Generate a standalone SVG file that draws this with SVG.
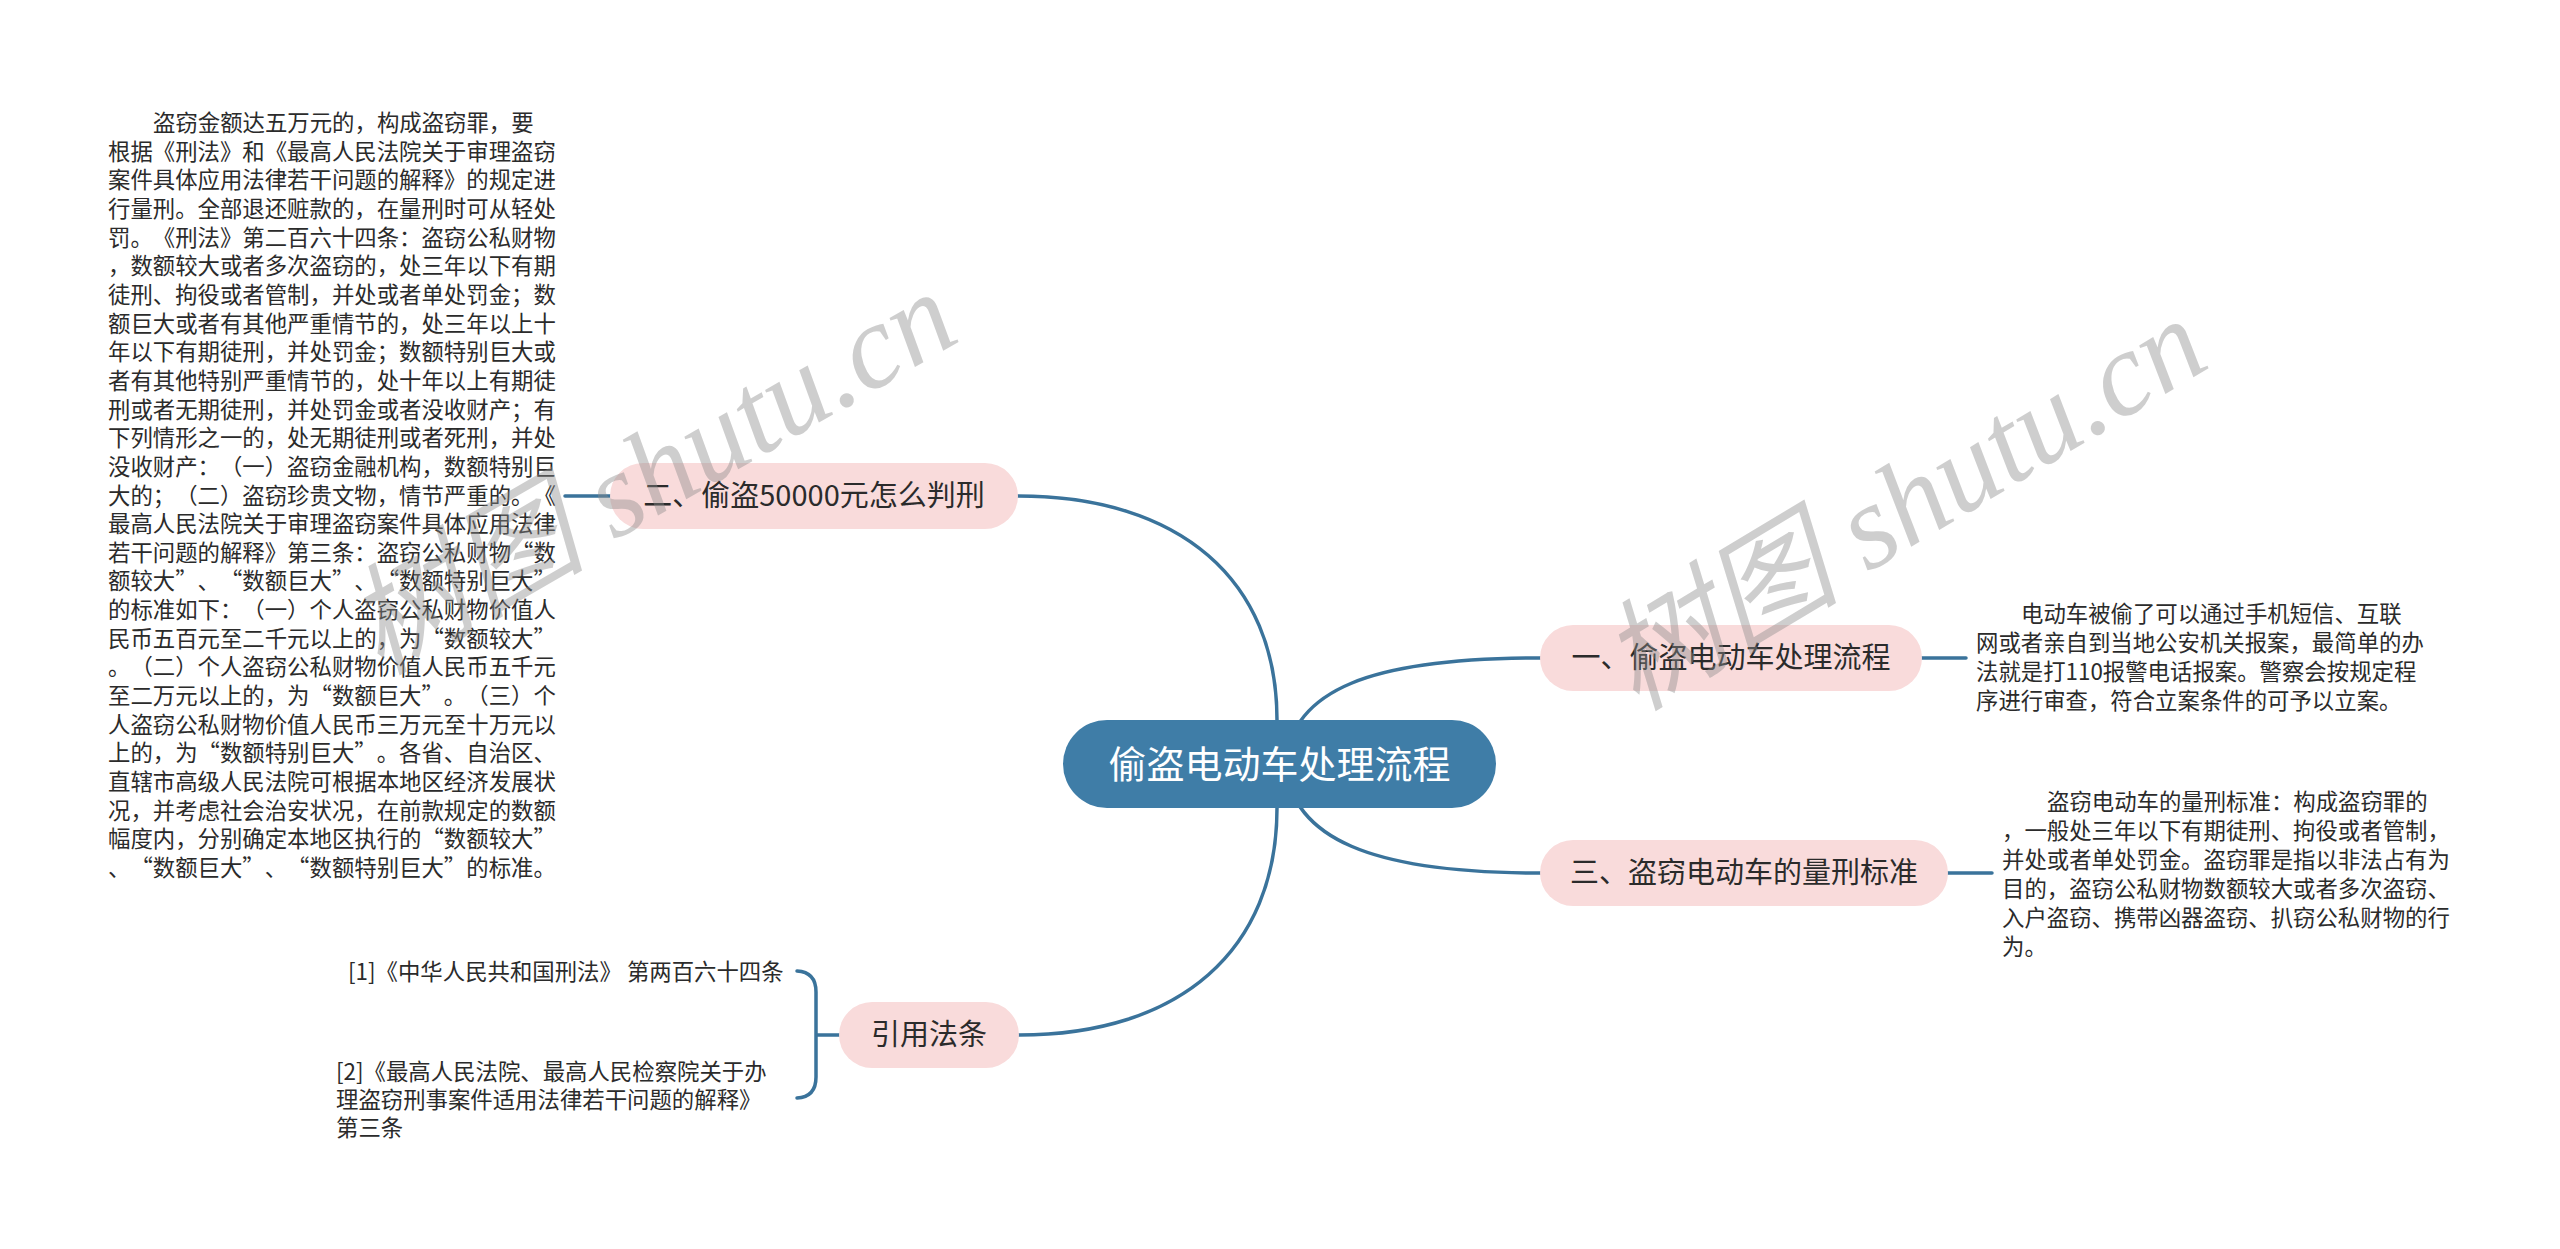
<svg xmlns="http://www.w3.org/2000/svg" width="2560" height="1249" viewBox="0 0 2560 1249">
<style>
.bg{fill:#ffffff}
.conn{fill:none;stroke:#3A739B;stroke-width:3.5;stroke-linecap:round}
.root{fill:#3F7DA7}
.pill{fill:#F9DBDB}
text{text-spacing-trim:space-all}
.rt{font-family:"Noto Sans CJK SC","Noto Sans",sans-serif;font-size:38px;fill:#ffffff;text-anchor:middle}
.nt{font-family:"Noto Sans CJK SC","Noto Sans",sans-serif;font-size:29px;fill:#2b2b2b;text-anchor:middle}
.dt{font-family:"Noto Sans CJK SC","Noto Sans",sans-serif;font-size:22.4px;fill:#2b2b2b}
.wm{font-family:"Liberation Serif","Noto Sans CJK SC",serif;font-style:italic;font-size:120px;fill:#8c8c8c;opacity:0.42}
</style>
<rect class="bg" x="0" y="0" width="2560" height="1249"/>
<g id="connectors">
<path class="conn" d="M1277,764 L1277,720 C1277,580 1180,496 1018,496"/>
<path class="conn" d="M1285,764 C1292,690 1370,658 1540,658"/>
<path class="conn" d="M1285,764 C1292,838 1370,873 1540,873"/>
<path class="conn" d="M1277,764 L1277,808 C1277,950 1180,1035 1019,1035"/>
<path class="conn" d="M610,496 L565,496"/>
<path class="conn" d="M1922,658 L1966,658"/>
<path class="conn" d="M1948,873 L1992,873"/>
<path class="conn" d="M839,1035 L816,1035 M797,971 Q816,972 816,992 L816,1077 Q816,1097 797,1098"/>
</g>
<g id="root">
<rect class="root" x="1063" y="720" width="433" height="88" rx="44"/>
<text class="rt" x="1279.5" y="778">偷盗电动车处理流程</text>
</g>
<g id="node1">
<rect class="pill" x="1540" y="625" width="382" height="66" rx="33"/>
<text class="nt" x="1731" y="668">一、偷盗电动车处理流程</text>
</g>
<g id="node2">
<rect class="pill" x="610" y="463" width="408" height="66" rx="33"/>
<text class="nt" x="814" y="506">二、偷盗50000元怎么判刑</text>
</g>
<g id="node3">
<rect class="pill" x="1540" y="840" width="408" height="66" rx="33"/>
<text class="nt" x="1744" y="883">三、盗窃电动车的量刑标准</text>
</g>
<g id="node4">
<rect class="pill" x="839" y="1002" width="180" height="66" rx="33"/>
<text class="nt" x="929" y="1045">引用法条</text>
</g>
<g id="desc1">
<text class="dt"><tspan x="2021" y="622">电动车被偷了可以通过手机短信、互联</tspan><tspan x="1976" y="651">网或者亲自到当地公安机关报案，最简单的办</tspan><tspan x="1976" y="680">法就是打110报警电话报案。警察会按规定程</tspan><tspan x="1976" y="709">序进行审查，符合立案条件的可予以立案。</tspan></text>
</g>
<g id="desc3">
<text class="dt"><tspan x="2047" y="810">盗窃电动车的量刑标准：构成盗窃罪的</tspan><tspan x="2002" y="839">，一般处三年以下有期徒刑、拘役或者管制，</tspan><tspan x="2002" y="868">并处或者单处罚金。盗窃罪是指以非法占有为</tspan><tspan x="2002" y="897">目的，盗窃公私财物数额较大或者多次盗窃、</tspan><tspan x="2002" y="926">入户盗窃、携带凶器盗窃、扒窃公私财物的行</tspan><tspan x="2002" y="955">为。</tspan></text>
</g>
<g id="desc2">
<text class="dt"><tspan x="153" y="131">盗窃金额达五万元的，构成盗窃罪，要</tspan><tspan x="108" y="159.6">根据《刑法》和《最高人民法院关于审理盗窃</tspan><tspan x="108" y="188.3">案件具体应用法律若干问题的解释》的规定进</tspan><tspan x="108" y="217">行量刑。全部退还赃款的，在量刑时可从轻处</tspan><tspan x="108" y="245.6">罚。《刑法》第二百六十四条：盗窃公私财物</tspan><tspan x="108" y="274.3">，数额较大或者多次盗窃的，处三年以下有期</tspan><tspan x="108" y="302.9">徒刑、拘役或者管制，并处或者单处罚金；数</tspan><tspan x="108" y="331.6">额巨大或者有其他严重情节的，处三年以上十</tspan><tspan x="108" y="360.2">年以下有期徒刑，并处罚金；数额特别巨大或</tspan><tspan x="108" y="388.9">者有其他特别严重情节的，处十年以上有期徒</tspan><tspan x="108" y="417.5">刑或者无期徒刑，并处罚金或者没收财产；有</tspan><tspan x="108" y="446.2">下列情形之一的，处无期徒刑或者死刑，并处</tspan><tspan x="108" y="474.8">没收财产：（一）盗窃金融机构，数额特别巨</tspan><tspan x="108" y="503.5">大的；（二）盗窃珍贵文物，情节严重的。《</tspan><tspan x="108" y="532.1">最高人民法院关于审理盗窃案件具体应用法律</tspan><tspan x="108" y="560.8">若干问题的解释》第三条：盗窃公私财物“数</tspan><tspan x="108" y="589.4">额较大”、“数额巨大”、“数额特别巨大”</tspan><tspan x="108" y="618">的标准如下：（一）个人盗窃公私财物价值人</tspan><tspan x="108" y="646.7">民币五百元至二千元以上的，为“数额较大”</tspan><tspan x="108" y="675.4">。（二）个人盗窃公私财物价值人民币五千元</tspan><tspan x="108" y="704">至二万元以上的，为“数额巨大”。（三）个</tspan><tspan x="108" y="732.7">人盗窃公私财物价值人民币三万元至十万元以</tspan><tspan x="108" y="761.3">上的，为“数额特别巨大”。各省、自治区、</tspan><tspan x="108" y="790">直辖市高级人民法院可根据本地区经济发展状</tspan><tspan x="108" y="818.6">况，并考虑社会治安状况，在前款规定的数额</tspan><tspan x="108" y="847.3">幅度内，分别确定本地区执行的“数额较大”</tspan><tspan x="108" y="875.9">、“数额巨大”、“数额特别巨大”的标准。</tspan></text>
</g>
<g id="ref1">
<text class="dt" x="348" y="980">[1]《中华人民共和国刑法》 第两百六十四条</text>
</g>
<g id="ref2">
<text class="dt"><tspan x="336" y="1080">[2]《最高人民法院、最高人民检察院关于办</tspan><tspan x="336" y="1108">理盗窃刑事案件适用法律若干问题的解释》</tspan><tspan x="336" y="1136">第三条</tspan></text>
</g>
<g id="watermarks">
<text class="wm" transform="translate(380,676) rotate(-30)">树图 shutu.cn</text>
<text class="wm" transform="translate(1636,712) rotate(-31)">树图 shutu.cn</text>
</g>
</svg>
